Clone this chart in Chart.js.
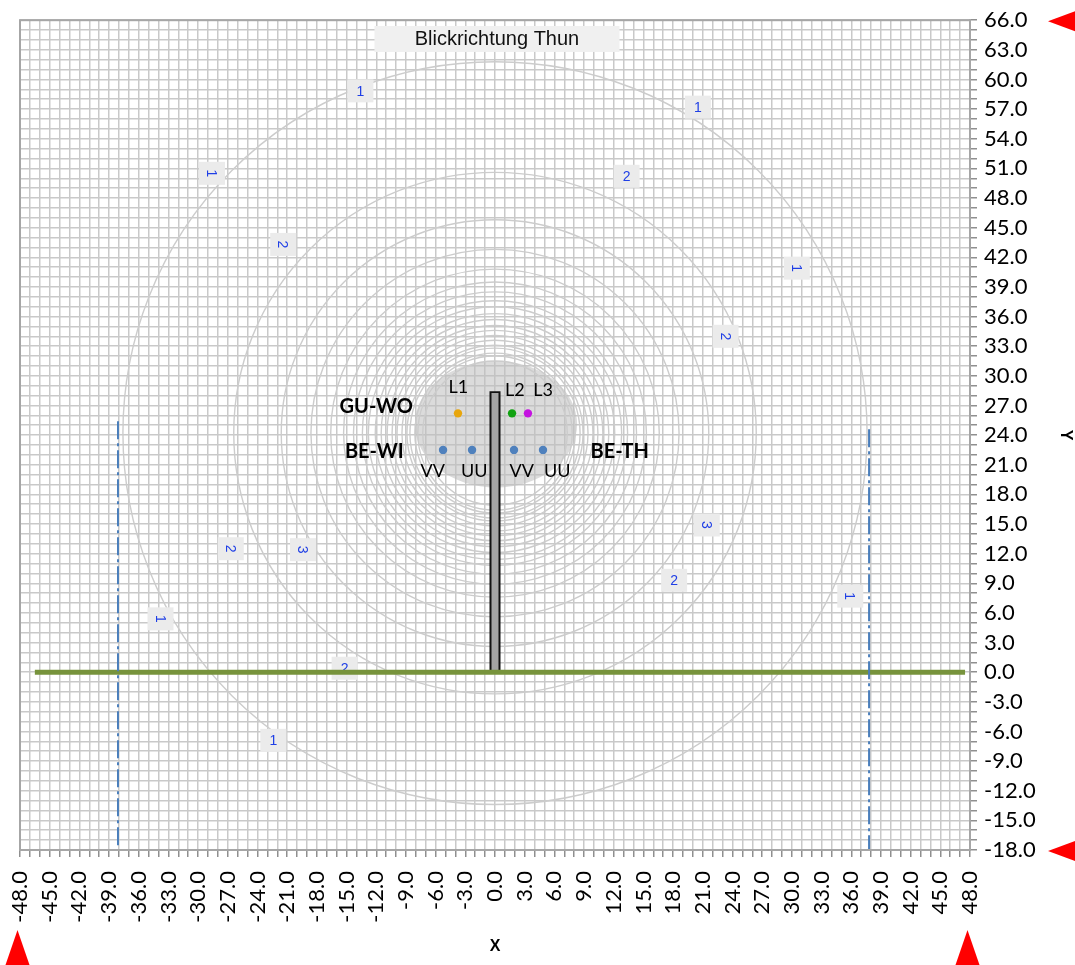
<!DOCTYPE html>
<html>
<head>
<meta charset="utf-8">
<script src="https://cdn.jsdelivr.net/npm/chart.js@4.4.1/dist/chart.umd.min.js"></script>
<style>
  html, body { margin: 0; padding: 0; background: #ffffff; }
  canvas { display: block; }
</style>
</head>
<body>
<canvas id="plan" width="1075" height="965"></canvas>
<script>
// Axis extent (metres) and tick spacing
const xRange = [-48, 48];
const yRange = [-18, 66];
const tickStep = 1;
const labelEvery = 3;

// Isolux rings (lx) around the lamp group: centre and radii in metres
const ringCenter = [0, 24.2];
const ringRadii = [37.6, 26.4, 21.6, 18.6, 16.6, 15.3, 14.3, 13.4, 12.8, 12.1,
                   11.5, 10.9, 10.4, 9.9, 9.4, 8.9, 8.6, 8.1, 7.8, 7.3];
// Saturated core of the light field (centre x, centre y, half-width, half-height)
const coreField = [0.1, 25.1, 8.2, 6.4];

// Ring value tags
const ringTagText = ['1', '1', '1', '1', '1', '1', '1', '2', '2', '2', '2', '2', '2', '3', '3'];
const ringTagX = [-13.6, 20.5, -28.6, 30.5, -33.8, 35.9, -22.4, -21.4, 13.3, 23.3, -26.7, 18.1, -15.2, -19.4, 21.4];
const ringTagY = [58.85, 57.2, 50.5, 40.9, 5.4, 7.7, -6.9, 43.3, 50.2, 34.0, 12.5, 9.3, 0.4, 12.4, 14.9];
const ringTagTurned = [false, false, true, true, true, true, false, true, false, true, true, false, false, true, true];

// Luminaires
const lampNames = ['L1', 'L2', 'L3'];
const lampX = [-3.74, 1.72, 3.33];
const lampY = [26.2, 26.2, 26.2];
const signalX = [-5.25, -2.32, 1.92, 4.85];
const signalY = [22.5, 22.5, 22.5, 22.5];

// Mast, ground line and field borders
const mastX = 0;
const mastTop = 28.45;
const groundY = 0;
const groundSpan = [-46.5, 47.5];
const borderX = [-38.1, 37.8];
const borderTop = [25.4, 24.6];

// Annotation texts
const groupText = ['GU-WO', 'BE-WI', 'BE-TH'];
const groupX = [-12.0, -12.2, 12.6];
const groupY = [26.9, 22.3, 22.3];
const lampTagX = [-3.7, 2.0, 4.85];
const lampTagY = [28.8, 28.5, 28.5];
const signalTagText = ['VV', 'UU', 'VV', 'UU'];
const signalTagX = [-6.3, -2.1, 2.7, 6.3];
const signalTagY = [20.3, 20.3, 20.3, 20.3];
const viewTitle = 'Blickrichtung Thun';
const viewTitleAt = [0.2, 64.1];

const pts = (xs, ys) => xs.map((v, i) => ({ x: v, y: ys[i] }));

const overlay = {
  id: 'overlay',
  beforeDatasetsDraw(chart) {
    const { ctx, chartArea: a, scales: { x, y } } = chart;
    ctx.save();
    ctx.beginPath();
    ctx.rect(a.left, a.top, a.right - a.left, a.bottom - a.top);
    ctx.clip();

    // core of the light field
    const [qx, qy, qrx, qry] = coreField;
    ctx.fillStyle = 'rgba(190,190,190,0.55)';
    ctx.beginPath();
    ctx.ellipse(x.getPixelForValue(qx), y.getPixelForValue(qy),
      Math.abs(x.getPixelForValue(qx + qrx) - x.getPixelForValue(qx)),
      Math.abs(y.getPixelForValue(qy + qry) - y.getPixelForValue(qy)), 0, 0, Math.PI * 2);
    ctx.fill();

    // isolux rings
    const cx = x.getPixelForValue(ringCenter[0]);
    const cy = y.getPixelForValue(ringCenter[1]);
    ctx.strokeStyle = '#cccccc';
    ctx.lineWidth = 1.4;
    ringRadii.forEach(r => {
      const rx = Math.abs(x.getPixelForValue(ringCenter[0] + r) - cx);
      const ry = Math.abs(y.getPixelForValue(ringCenter[1] + r) - cy);
      ctx.beginPath();
      ctx.ellipse(cx, cy, rx, ry, 0, 0, Math.PI * 2);
      ctx.stroke();
    });

    // ring value tags
    ctx.font = '14px "Liberation Sans", Arial, sans-serif';
    ctx.textAlign = 'center';
    ctx.textBaseline = 'middle';
    ringTagText.forEach((t, i) => {
      const px = x.getPixelForValue(ringTagX[i]);
      const py = y.getPixelForValue(ringTagY[i]);
      ctx.save();
      ctx.translate(px, py);
      ctx.fillStyle = '#ebebeb';
      ctx.fillRect(-13, -11.5, 26, 23);
      if (ringTagTurned[i]) ctx.rotate(Math.PI / 2);
      ctx.fillStyle = '#1f3fe6';
      ctx.fillText(t, 0, 1);
      ctx.restore();
    });
    ctx.restore();
  },
  afterDatasetsDraw(chart) {
    const { ctx, scales: { x, y } } = chart;
    ctx.save();
    ctx.textAlign = 'center';
    ctx.textBaseline = 'middle';
    ctx.fillStyle = '#000000';

    ctx.font = 'bold 20px Lato, "Open Sans", sans-serif';
    groupText.forEach((t, i) => ctx.fillText(t, x.getPixelForValue(groupX[i]), y.getPixelForValue(groupY[i])));

    ctx.font = '18px Lato, "Open Sans", sans-serif';
    lampNames.forEach((t, i) => ctx.fillText(t, x.getPixelForValue(lampTagX[i]), y.getPixelForValue(lampTagY[i])));
    signalTagText.forEach((t, i) => ctx.fillText(t, x.getPixelForValue(signalTagX[i]), y.getPixelForValue(signalTagY[i])));

    // viewing direction caption
    ctx.font = '20px "Liberation Sans", Arial, sans-serif';
    const tx = x.getPixelForValue(viewTitleAt[0]);
    const ty = y.getPixelForValue(viewTitleAt[1]);
    const w = 245;
    ctx.fillStyle = '#f0f0f0';
    ctx.fillRect(tx - w / 2, ty - 13, w, 26);
    ctx.fillStyle = '#111111';
    ctx.fillText(viewTitle, tx, ty + 1);
    ctx.restore();
  },
  afterDraw(chart) {
    const { ctx, chartArea: a, scales: { x, y } } = chart;
    ctx.save();
    // plot frame
    ctx.strokeStyle = '#a6a6a6';
    ctx.lineWidth = 2;
    ctx.strokeRect(a.left, a.top, a.right - a.left, a.bottom - a.top);

    // range markers at the axis ends
    ctx.fillStyle = '#ff0000';
    const W = chart.width, H = chart.height;
    [yRange[1], yRange[0]].forEach(v => {
      const py = y.getPixelForValue(v) + 1;
      ctx.beginPath();
      ctx.moveTo(W - 27, py);
      ctx.lineTo(W, py - 10);
      ctx.lineTo(W, py + 10);
      ctx.closePath();
      ctx.fill();
    });
    [xRange[0], xRange[1]].forEach(v => {
      const px = x.getPixelForValue(v) - 2.5;
      ctx.beginPath();
      ctx.moveTo(px, H - 35);
      ctx.lineTo(px + 12, H);
      ctx.lineTo(px - 12, H);
      ctx.closePath();
      ctx.fill();
    });
    ctx.restore();
  }
};

const tickFont = { family: 'Lato, "Open Sans", sans-serif', size: 22 };
const tickLabel = v => (Math.round(v) % labelEvery === 0 ? Number(v).toFixed(1) : '');
const axisTitleFont = { family: '"Liberation Sans", Arial, sans-serif', size: 16, weight: 'bold' };

new Chart(document.getElementById('plan'), {
  type: 'scatter',
  data: {
    datasets: [
      {
        label: 'Leuchten',
        data: pts(lampX, lampY),
        backgroundColor: ['#e8a60c', '#11a211', '#c412e0'],
        borderWidth: 0,
        pointRadius: 4.2,
        order: 1
      },
      {
        label: 'Signale',
        data: pts(signalX, signalY),
        backgroundColor: '#4f81bd',
        borderWidth: 0,
        pointRadius: 4.2,
        order: 1
      },
      {
        type: 'line',
        label: 'Feldgrenze links',
        data: [{ x: borderX[0], y: borderTop[0] }, { x: borderX[0], y: yRange[0] }],
        borderColor: '#4a7ebb',
        borderWidth: 2,
        borderDash: [18, 4, 3, 4],
        pointRadius: 0,
        order: 2
      },
      {
        type: 'line',
        label: 'Feldgrenze rechts',
        data: [{ x: borderX[1], y: borderTop[1] }, { x: borderX[1], y: yRange[0] }],
        borderColor: '#4a7ebb',
        borderWidth: 2,
        borderDash: [18, 4, 3, 4],
        pointRadius: 0,
        order: 2
      },
      {
        type: 'line',
        label: 'Boden',
        data: [{ x: groundSpan[0], y: groundY }, { x: groundSpan[1], y: groundY }],
        borderColor: '#77933c',
        borderWidth: 5,
        pointRadius: 0,
        order: 3
      },
      {
        type: 'line',
        label: 'Mast',
        data: [{ x: mastX, y: groundY }, { x: mastX, y: mastTop - 0.2 }],
        borderColor: '#a3a3a3',
        borderWidth: 7,
        borderCapStyle: 'butt',
        pointRadius: 0,
        order: 4
      },
      {
        type: 'line',
        label: 'Mast Kontur',
        data: [{ x: mastX, y: groundY }, { x: mastX, y: mastTop }],
        borderColor: '#111111',
        borderWidth: 11,
        borderCapStyle: 'butt',
        pointRadius: 0,
        order: 5
      }
    ]
  },
  options: {
    responsive: false,
    animation: false,
    devicePixelRatio: 1,
    layout: { padding: { left: 20, top: 16, right: 0, bottom: 0 } },
    plugins: { legend: { display: false }, tooltip: { enabled: false } },
    scales: {
      x: {
        type: 'linear',
        position: 'bottom',
        min: xRange[0],
        max: xRange[1],
        afterFit: s => { s.height = 115; },
        grid: { color: '#c9c9c9', lineWidth: 1.5, tickLength: 7, tickColor: '#8f8f8f', tickWidth: 1.5 },
        border: { display: true, color: '#a6a6a6', width: 2 },
        ticks: {
          stepSize: tickStep, autoSkip: false, minRotation: 90, maxRotation: 90,
          padding: 14, color: '#000000', font: tickFont, callback: tickLabel
        },
        title: { display: true, text: 'X', color: '#000000', font: axisTitleFont, padding: { top: 0, bottom: 9 } }
      },
      y: {
        type: 'linear',
        position: 'right',
        min: yRange[0],
        max: yRange[1],
        afterFit: s => { s.width = 105; },
        grid: { color: '#c9c9c9', lineWidth: 1.5, tickLength: 7, tickColor: '#8f8f8f', tickWidth: 1.5 },
        border: { display: true, color: '#a6a6a6', width: 2 },
        ticks: {
          stepSize: tickStep, autoSkip: false, padding: 7,
          color: '#000000', font: tickFont, callback: tickLabel
        },
        title: { display: true, text: 'Y', color: '#000000', font: axisTitleFont, padding: { top: 0, bottom: 0 } }
      }
    }
  },
  plugins: [overlay]
});
</script>
</body>
</html>
